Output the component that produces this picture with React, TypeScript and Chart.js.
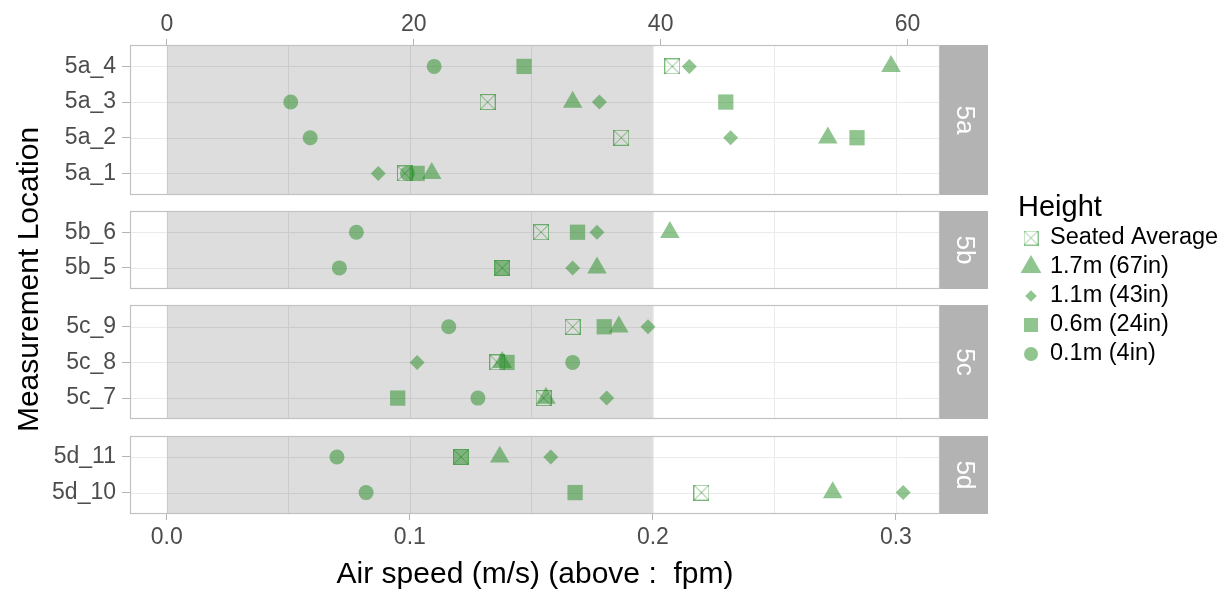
import React, { useEffect, useRef } from 'react';
import { Chart, registerables } from 'chart.js';

Chart.register(...registerables);

// ---------------- data ----------------
const locations = ['5a_4', '5a_3', '5a_2', '5a_1', '5b_6', '5b_5', '5c_9', '5c_8', '5c_7', '5d_11', '5d_10'];
const panels = ['5a', '5b', '5c', '5d'];
const seriesNames = ['Seated Average', '1.7m (67in)', '1.1m (43in)', '0.6m (24in)', '0.1m (4in)'];

const seatedAverage = [0.208, 0.132, 0.187, 0.098, 0.154, 0.138, 0.167, 0.136, 0.155, 0.121, 0.220];
const h170 = [0.298, 0.167, 0.272, 0.109, 0.207, 0.177, 0.186, 0.138, 0.156, 0.137, 0.274];
const h110 = [0.215, 0.178, 0.232, 0.087, 0.177, 0.167, 0.198, 0.103, 0.181, 0.158, 0.303];
const h060 = [0.147, 0.230, 0.284, 0.103, 0.169, 0.138, 0.180, 0.140, 0.095, 0.121, 0.168];
const h010 = [0.110, 0.051, 0.059, 0.099, 0.078, 0.071, 0.116, 0.167, 0.128, 0.070, 0.082];

const xTicks = [0, 0.1, 0.2, 0.3];
const fpmTicks = [0, 20, 40, 60];
const shadeRange = [0, 0.2];

// ---------------- layout helpers ----------------
const MPS_TO_FPM = 196.850394;
const FONT = "'Liberation Sans', Arial, Helvetica, sans-serif";
const GREEN = 'rgba(34,139,34,0.5)';
const PANEL_GAP = 0.45;

const rowPos: number[] = [];
const panelBounds: { name: string; start: number; end: number }[] = [];
(() => {
  let cursor = 0;
  panels.forEach((p) => {
    const rows = locations.filter((l) => l.startsWith(p));
    const start = cursor;
    rows.forEach((_, i) => rowPos.push(start + 0.6 + i));
    const end = start + rows.length + 0.2;
    panelBounds.push({ name: p, start, end });
    cursor = end + PANEL_GAP;
  });
})();
const yMax = panelBounds[panelBounds.length - 1].end;

const allVals = [...seatedAverage, ...h170, ...h110, ...h060, ...h010, ...shadeRange];
const dMin = Math.min(...allVals);
const dMax = Math.max(...allVals);
const span = dMax - dMin;
const xLo = dMin - 0.05 * span;
const xHi = dMax + 0.05 * span;

function makeBoxX(size: number, color: string, lw: number) {
  const c = document.createElement('canvas');
  c.width = size;
  c.height = size;
  const g = c.getContext('2d')!;
  g.strokeStyle = color;
  g.lineWidth = lw;
  g.strokeRect(0.5, 0.5, size - 1, size - 1);
  g.beginPath();
  g.moveTo(0.5, 0.5);
  g.lineTo(size - 0.5, size - 0.5);
  g.moveTo(size - 0.5, 0.5);
  g.lineTo(0.5, size - 0.5);
  g.stroke();
  return c;
}

function drawShape(ctx: CanvasRenderingContext2D, kind: string, cx: number, cy: number, img?: HTMLCanvasElement) {
  ctx.fillStyle = GREEN;
  ctx.beginPath();
  if (kind === 'box' && img) {
    ctx.drawImage(img, cx - 7.5, cy - 7.5, 15, 15);
    return;
  } else if (kind === 'triangle') {
    const r = 12;
    ctx.moveTo(cx, cy - r);
    ctx.lineTo(cx + r * Math.sqrt(3) / 2, cy + r / 2);
    ctx.lineTo(cx - r * Math.sqrt(3) / 2, cy + r / 2);
    ctx.closePath();
  } else if (kind === 'diamond') {
    const r = 5.8;
    ctx.moveTo(cx, cy - r);
    ctx.lineTo(cx + r, cy);
    ctx.lineTo(cx, cy + r);
    ctx.lineTo(cx - r, cy);
    ctx.closePath();
  } else if (kind === 'square') {
    ctx.rect(cx - 7, cy - 7, 14, 14);
  } else {
    ctx.arc(cx, cy, 7, 0, Math.PI * 2);
  }
  ctx.fill();
}

export default function App() {
  const ref = useRef<HTMLCanvasElement | null>(null);

  useEffect(() => {
    const canvas = ref.current;
    if (!canvas) return;
    const boxImg = makeBoxX(16, 'rgba(34,139,34,0.6)', 1);
    const legendBox = makeBoxX(15, 'rgba(34,139,34,0.5)', 1);

    const toPts = (arr: number[]) => arr.map((v, i) => ({ x: v, y: rowPos[i] }));

    const facetPlugin = {
      id: 'facets',
      beforeDatasetsDraw(chart: any) {
        const { ctx, chartArea: ca, scales } = chart;
        const x = scales.x;
        const y = scales.y;
        ctx.save();
        const gridVals: number[] = [...xTicks];
        for (let i = 0; i < xTicks.length - 1; i++) gridVals.push((xTicks[i] + xTicks[i + 1]) / 2);
        panelBounds.forEach((pb) => {
          const top = Math.round(y.getPixelForValue(pb.start));
          const bottom = Math.round(y.getPixelForValue(pb.end));
          ctx.fillStyle = '#ffffff';
          ctx.fillRect(ca.left, top, ca.right - ca.left, bottom - top);
          ctx.strokeStyle = '#EBEBEB';
          ctx.lineWidth = 1;
          ctx.beginPath();
          gridVals.forEach((v) => {
            const px = Math.round(x.getPixelForValue(v)) + 0.5;
            ctx.moveTo(px, top);
            ctx.lineTo(px, bottom);
          });
          rowPos.forEach((r) => {
            if (r > pb.start && r < pb.end) {
              const py = Math.round(y.getPixelForValue(r)) + 0.5;
              ctx.moveTo(ca.left, py);
              ctx.lineTo(ca.right, py);
            }
          });
          ctx.stroke();
          // shaded region
          const sx0 = x.getPixelForValue(shadeRange[0]);
          const sx1 = x.getPixelForValue(shadeRange[1]);
          ctx.fillStyle = 'rgba(0,0,0,0.135)';
          ctx.fillRect(sx0, top, sx1 - sx0, bottom - top);
          // border
          ctx.strokeStyle = '#C2C2C2';
          ctx.lineWidth = 1.2;
          ctx.strokeRect(ca.left + 0.5, top + 0.5, ca.right - ca.left - 1, bottom - top - 1);
          // strip
          ctx.fillStyle = '#B3B3B3';
          ctx.fillRect(ca.right, top, 48, bottom - top);
          ctx.save();
          ctx.translate(ca.right + 24, (top + bottom) / 2);
          ctx.rotate(Math.PI / 2);
          ctx.fillStyle = '#ffffff';
          ctx.font = `26px ${FONT}`;
          ctx.textAlign = 'center';
          ctx.textBaseline = 'middle';
          ctx.fillText(pb.name, 0, 0);
          ctx.restore();
        });
        ctx.restore();
      },
      afterDraw(chart: any) {
        const { ctx, chartArea: ca } = chart;
        ctx.save();
        const lx = ca.right + 78;
        ctx.fillStyle = '#000000';
        ctx.font = `29px ${FONT}`;
        ctx.textAlign = 'left';
        ctx.textBaseline = 'alphabetic';
        ctx.fillText('Height', lx, 216);
        const kinds = ['box', 'triangle', 'diamond', 'square', 'circle'];
        const rows = [238, 267, 296, 325, 354];
        seriesNames.forEach((name, i) => {
          drawShape(ctx, kinds[i], lx + 13, rows[i], legendBox);
          ctx.fillStyle = '#000000';
          ctx.font = `23.5px ${FONT}`;
          ctx.textBaseline = 'middle';
          ctx.fillText(name, lx + 32, rows[i]);
        });
        ctx.restore();
      },
    };

    const tickFont = { family: FONT, size: 23 };
    const chart = new Chart(canvas, {
      type: 'scatter',
      data: {
        datasets: [
          { label: seriesNames[0], data: toPts(seatedAverage), pointStyle: boxImg as any, pointRadius: 8, backgroundColor: GREEN, borderWidth: 0 },
          { label: seriesNames[1], data: toPts(h170), pointStyle: 'triangle', pointRadius: 11.3, backgroundColor: GREEN, borderWidth: 0 },
          { label: seriesNames[2], data: toPts(h110), pointStyle: 'rectRot', pointRadius: 7.5, backgroundColor: GREEN, borderWidth: 0 },
          { label: seriesNames[3], data: toPts(h060), pointStyle: 'rect', pointRadius: 10.8, backgroundColor: GREEN, borderWidth: 0 },
          { label: seriesNames[4], data: toPts(h010), pointStyle: 'circle', pointRadius: 7.5, backgroundColor: GREEN, borderWidth: 0 },
        ],
      },
      options: {
        animation: false,
        responsive: false,
        events: [],
        layout: { padding: { left: 0, right: 282, top: 0, bottom: 0 } },
        plugins: { legend: { display: false }, tooltip: { enabled: false } },
        scales: {
          x: {
            type: 'linear',
            position: 'bottom',
            min: xLo,
            max: xHi,
            afterBuildTicks: (s: any) => { s.ticks = xTicks.map((v) => ({ value: v })); },
            afterFit: (s: any) => { s.height = 81; },
            ticks: { callback: (v: any) => Number(v).toFixed(1), color: '#4D4D4D', font: tickFont, padding: 4, maxRotation: 0, autoSkip: false },
            grid: { drawOnChartArea: false, tickLength: 6, color: '#B3B3B3' },
            border: { display: false },
            title: { display: true, text: 'Air speed (m/s) (above :  fpm)', color: '#000000', font: { family: FONT, size: 30 }, padding: { top: 0, bottom: 2 } },
          },
          x2: {
            type: 'linear',
            position: 'top',
            min: xLo * MPS_TO_FPM,
            max: xHi * MPS_TO_FPM,
            afterBuildTicks: (s: any) => { s.ticks = fpmTicks.map((v) => ({ value: v })); },
            afterFit: (s: any) => { s.height = 45; },
            ticks: { callback: (v: any) => String(v), color: '#4D4D4D', font: tickFont, padding: 1, maxRotation: 0, autoSkip: false },
            grid: { drawOnChartArea: false, tickLength: 6, color: '#B3B3B3' },
            border: { display: false },
          },
          y: {
            type: 'linear',
            position: 'left',
            min: 0,
            max: yMax,
            reverse: true,
            afterBuildTicks: (s: any) => { s.ticks = rowPos.map((v) => ({ value: v })); },
            afterFit: (s: any) => { s.width = 130; },
            ticks: { callback: (_v: any, i: number) => locations[i], color: '#4D4D4D', font: { family: FONT, size: 23 }, padding: 6, autoSkip: false },
            grid: { drawOnChartArea: false, tickLength: 8, color: '#B3B3B3' },
            border: { display: false },
            title: { display: true, text: 'Measurement Location', color: '#000000', font: { family: FONT, size: 30 }, padding: { top: 12, bottom: 0 } },
          },
        },
      } as any,
      plugins: [facetPlugin],
    });
    return () => chart.destroy();
  }, []);

  return (
    <div style={{ position: 'fixed', left: 0, top: 0, width: 1222, height: 595, background: '#ffffff' }}>
      <canvas ref={ref} width={1222} height={595} style={{ display: 'block', width: 1222, height: 595 }} />
    </div>
  );
}
